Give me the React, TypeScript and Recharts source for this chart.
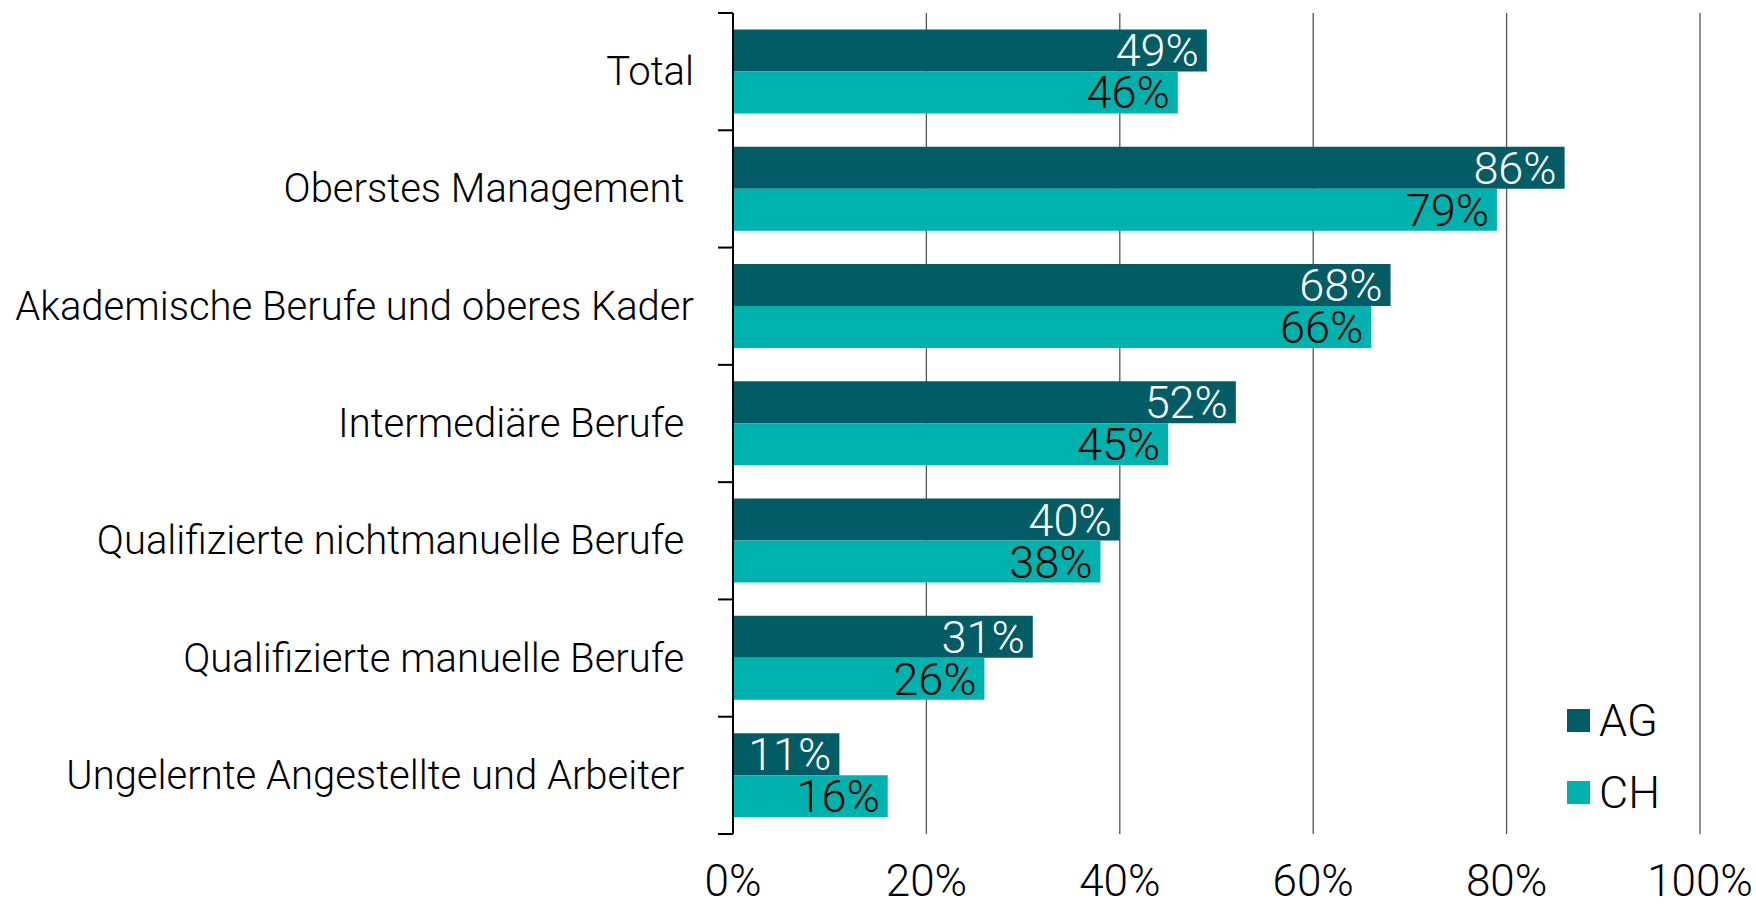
import { BarChart, Bar, XAxis, YAxis, CartesianGrid, Legend, LabelList } from 'recharts';

const categories = [
  'Total',
  'Oberstes Management\u00a0',
  'Akademische Berufe und oberes Kader',
  'Intermediäre Berufe\u00a0',
  'Qualifizierte nichtmanuelle Berufe\u00a0',
  'Qualifizierte manuelle Berufe\u00a0',
  'Ungelernte Angestellte und Arbeiter\u00a0',
];
const agValues = [49, 86, 68, 52, 40, 31, 11];
const chValues = [46, 79, 66, 45, 38, 26, 16];
const xTicks = [0, 20, 40, 60, 80, 100];

const AG_COLOR = '#025c66';
const CH_COLOR = '#00b2ad';
const FONT = 'Roboto, "Liberation Sans", Arial, sans-serif';
const CAT_FONT = 40;
const VALUE_FONT = 45;
const TICK_FONT = 44;

const WIDTH = 1756;
const HEIGHT = 906;
const PLOT_TOP = 13;
const X_AXIS_H = 72;
const Y_AXIS_W = 733;
const BAND = (HEIGHT - X_AXIS_H - PLOT_TOP) / categories.length;

const data = categories.map((name, i) => ({ name, AG: agValues[i], CH: chValues[i] }));

// category label plus short tick marks at the band boundaries
function CategoryTick(props: any) {
  const { x, y, payload, index } = props;
  const axisX = x + 39;
  const half = BAND / 2;
  return (
    <g>
      <line x1={axisX - 15} x2={axisX} y1={y - half} y2={y - half} stroke="#000" strokeWidth={2} />
      {index === categories.length - 1 && (
        <line x1={axisX - 15} x2={axisX} y1={y + half} y2={y + half} stroke="#000" strokeWidth={2} />
      )}
      <text x={x} y={y} textAnchor="end" dominantBaseline="central" fill="#000"
        fontFamily={FONT} fontWeight={300} fontSize={CAT_FONT}>
        {payload.value}
      </text>
    </g>
  );
}

function PercentTick(props: any) {
  const { x, y, payload } = props;
  return (
    <text x={x} y={y + 54} textAnchor="middle" fill="#000" fontFamily={FONT} fontWeight={300} fontSize={TICK_FONT}>
      {payload.value}%
    </text>
  );
}

function LegendContent() {
  const items = [
    { label: 'AG', color: AG_COLOR },
    { label: 'CH', color: CH_COLOR },
  ];
  return (
    <div>
      {items.map((it) => (
        <div key={it.label} style={{ display: 'flex', alignItems: 'center', height: 72 }}>
          <span style={{ display: 'inline-block', width: 23, height: 23, background: it.color, marginRight: 9 }} />
          <span style={{ fontFamily: FONT, fontWeight: 300, fontSize: 45, color: '#000', lineHeight: 1 }}>{it.label}</span>
        </div>
      ))}
    </div>
  );
}

export default function App() {
  return (
    <div style={{ position: 'absolute', left: 0, top: 0, background: '#fff' }}>
      <BarChart
        width={WIDTH}
        height={HEIGHT}
        data={data}
        layout="vertical"
        margin={{ top: PLOT_TOP, right: 56, bottom: 0, left: 0 }}
        barCategoryGap="14%"
        barGap={0}
      >
        <CartesianGrid horizontal={false} stroke="#555" strokeWidth={1.3} />
        <XAxis
          type="number"
          domain={[0, 100]}
          ticks={xTicks}
          height={X_AXIS_H}
          axisLine={false}
          tickLine={false}
          tick={<PercentTick />}
          interval={0}
        />
        <YAxis
          type="category"
          dataKey="name"
          width={Y_AXIS_W}
          axisLine={{ stroke: '#000', strokeWidth: 2 }}
          tickLine={false}
          tickSize={0}
          tickMargin={39}
          interval={0}
          tick={<CategoryTick />}
        />
        <Legend
          layout="vertical"
          verticalAlign="middle"
          align="center"
          wrapperStyle={{ left: 1567, top: 684, width: 120 }}
          content={<LegendContent />}
        />
        <Bar dataKey="AG" fill={AG_COLOR} isAnimationActive={false}>
          <LabelList dataKey="AG" position="insideRight" offset={8} fill="#fff"
            formatter={(v: any) => `${v}%`} fontFamily={FONT} fontWeight={300} fontSize={VALUE_FONT} />
        </Bar>
        <Bar dataKey="CH" fill={CH_COLOR} isAnimationActive={false}>
          <LabelList dataKey="CH" position="insideRight" offset={8} fill="#000"
            formatter={(v: any) => `${v}%`} fontFamily={FONT} fontWeight={300} fontSize={VALUE_FONT} />
        </Bar>
      </BarChart>
    </div>
  );
}
